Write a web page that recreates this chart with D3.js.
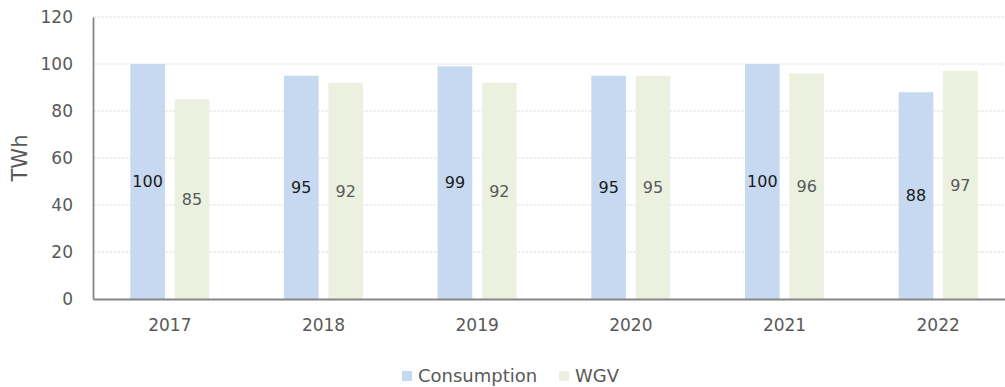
<!DOCTYPE html>
<html>
<head>
<meta charset="utf-8">
<script src="https://cdn.jsdelivr.net/npm/d3@7"></script>
<style>
  html, body { margin: 0; padding: 0; background: #fff; overflow: hidden; }
  svg { display: block; font-family: "DejaVu Sans", sans-serif; }
</style>
</head>
<body>
<svg id="chart" width="1005" height="387"></svg>
<script>
// Annual figures in TWh
const years = ["2017", "2018", "2019", "2020", "2021", "2022"];
const consumption = [100, 95, 99, 95, 100, 88];
const wgv = [85, 92, 92, 95, 96, 97];
const yTicks = [0, 20, 40, 60, 80, 100, 120];
const seriesNames = ["Consumption", "WGV"];

const colors = { Consumption: "#C6D9F0", WGV: "#EBF1DE" };
const labelColors = { Consumption: "#1a1a1a", WGV: "#595959" };
const FONT = "DejaVu Sans, sans-serif";

const svg = d3.select("#chart");
const margin = { top: 17, left: 93, bottom: 88 };
const plotW = 922;   // plot area runs past the right edge of the frame
const height = 387 - margin.top - margin.bottom;

const g = svg.append("g").attr("transform", `translate(${margin.left},${margin.top})`);

const x0 = d3.scaleBand().domain(years).range([0, plotW]).padding(0);
const x1 = d3.scaleBand().domain(seriesNames)
  .range([x0.bandwidth() / 2 - 39.5, x0.bandwidth() / 2 + 39.5])
  .paddingInner(0.22).paddingOuter(0);
const y = d3.scaleLinear().domain([0, 120]).range([height, 0]);

// gridlines
g.append("g")
  .selectAll("line")
  .data(yTicks.filter(d => d > 0))
  .join("line")
  .attr("x1", 0).attr("x2", plotW)
  .attr("y1", d => y(d)).attr("y2", d => y(d))
  .attr("stroke", "#e2e2e2")
  .attr("stroke-width", 1.2)
  .attr("stroke-dasharray", "3,1");

const rows = years.map((yr, i) => ({ year: yr, values: [
  { key: "Consumption", value: consumption[i] },
  { key: "WGV", value: wgv[i] }
]}));

const groups = g.append("g").selectAll("g")
  .data(rows)
  .join("g")
  .attr("transform", d => `translate(${x0(d.year)},0)`);

groups.selectAll("rect")
  .data(d => d.values)
  .join("rect")
  .attr("x", d => x1(d.key))
  .attr("width", x1.bandwidth())
  .attr("y", d => y(d.value))
  .attr("height", d => height - y(d.value))
  .attr("fill", d => colors[d.key]);

// value labels centred in each bar
groups.selectAll("text")
  .data(d => d.values)
  .join("text")
  .attr("x", d => x1(d.key) + x1.bandwidth() / 2)
  .attr("y", d => y(d.value / 2))
  .attr("dy", "0.35em")
  .attr("text-anchor", "middle")
  .attr("font-family", FONT)
  .attr("font-size", 16)
  .attr("fill", d => labelColors[d.key])
  .text(d => d.value);

// y axis
const yAxis = g.append("g")
  .call(d3.axisLeft(y).tickValues(yTicks).tickSize(0).tickPadding(20));
yAxis.select(".domain").attr("stroke", "#858585").attr("stroke-width", 1.8);
yAxis.selectAll("text").attr("font-size", 17).attr("fill", "#595959").attr("font-family", FONT);

// x axis
const xAxis = g.append("g")
  .attr("transform", `translate(0,${height})`)
  .call(d3.axisBottom(x0).tickSize(0).tickPadding(20));
xAxis.select(".domain").attr("stroke", "#858585").attr("stroke-width", 1.8);
xAxis.selectAll("text").attr("font-size", 17).attr("fill", "#595959").attr("font-family", FONT);

// axis title
svg.append("text")
  .attr("transform", `translate(27,${margin.top + height / 2}) rotate(-90)`)
  .attr("text-anchor", "middle")
  .attr("font-family", FONT)
  .attr("font-size", 21)
  .attr("fill", "#595959")
  .text("TWh");

// legend
const legend = svg.append("g").attr("transform", "translate(402,376)");
const legendItems = [
  { key: "Consumption", x: 0 },
  { key: "WGV", x: 157 }
];
legend.selectAll("rect")
  .data(legendItems)
  .join("rect")
  .attr("x", d => d.x).attr("y", -5)
  .attr("width", 10).attr("height", 10)
  .attr("fill", d => colors[d.key]);
legend.selectAll("text")
  .data(legendItems)
  .join("text")
  .attr("x", d => d.x + 16).attr("y", 0)
  .attr("dy", "0.35em")
  .attr("font-family", FONT)
  .attr("font-size", 18)
  .attr("fill", "#595959")
  .text(d => d.key);
</script>
</body>
</html>
